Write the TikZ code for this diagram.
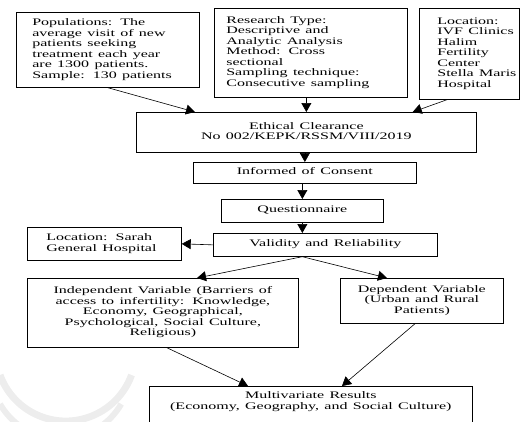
\documentclass[tikz,border=0pt]{standalone}
\usepackage{graphicx}
\usepackage{fontspec}
\setmainfont{Liberation Serif}
\usetikzlibrary{arrows.meta,calc}
\newcommand{\stx}[2]{\scalebox{1.6}[1]{\begin{tabular}{@{}#1@{}}#2\end{tabular}}}
\begin{document}
\begin{tikzpicture}[x=1pt,y=-1pt,
  box/.style={draw,line width=0.7pt,anchor=north west,inner ysep=2pt,
    font=\fontsize{10pt}{10.5pt}\selectfont},
  arr/.style={line width=0.6pt,-{Triangle[length=9pt,width=10pt]}}]
\useasboundingbox (0,0) rectangle (527,421);
\clip (0,0) rectangle (527,421);
% faint watermark
\draw[gray!14,line width=7pt] (0,375) arc[start angle=160,end angle=20,radius=70];
\draw[gray!14,line width=6pt] (0,404) arc[start angle=150,end angle=30,radius=70];
% boxes
\node[box,inner xsep=16pt,text width=151pt,minimum height=75pt,align=left] (b1) at (16,12)
  {\stx{l}{Populations: The\\average visit of new\\patients seeking\\treatment each year\\are 1300 patients.\\Sample: 130 patients}};
\node[box,inner xsep=12pt,text width=169pt,minimum height=89pt,align=left] (b2) at (214,8)
  {\stx{l}{Research Type:\\Descriptive and\\Analytic Analysis\\Method: Cross\\sectional\\Sampling technique:\\Consecutive sampling}};
\node[box,inner xsep=18pt,text width=64pt,minimum height=91pt,align=left] (b3) at (419,8)
  {\stx{l}{Location:\\IVF Clinics\\Halim\\Fertility\\Center\\Stella Maris\\Hospital}};
\node[box,inner xsep=5pt,text width=330pt,minimum height=40pt,align=center] (eth) at (136,112)
  {\stx{c}{Ethical Clearance\\No 002/KEPK/RSSM/VIII/2019}};
\node[box,inner xsep=5pt,text width=213pt,minimum height=21pt,align=center] (inf) at (193,162)
  {\stx{c}{Informed of Consent}};
\node[box,inner xsep=5pt,text width=152pt,minimum height=23pt,align=center] (q) at (221,199)
  {\stx{c}{Questionnaire}};
\node[box,inner xsep=5pt,text width=214pt,minimum height=23pt,align=center] (val) at (213,233)
  {\stx{c}{Validity and Reliability}};
\node[box,inner xsep=19pt,text width=116pt,minimum height=33pt,align=left] (sar) at (27,227)
  {\stx{l}{\makebox[72.5pt][s]{Location: Sarah}\\General Hospital}};
\node[box,inner xsep=5pt,text width=261pt,minimum height=69pt,align=center] (ind) at (27,278)
  {\stx{c}{Independent Variable (Barriers of\\access to infertility: Knowledge,\\Economy, Geographical,\\Psychological, Social Culture,\\Religious)}};
\node[box,inner xsep=5pt,text width=153pt,minimum height=45pt,align=center] (dep) at (340,278)
  {\stx{c}{Dependent Variable\\(Urban and Rural\\Patients)}};
\node[box,inner xsep=5pt,inner ysep=5pt,text width=313pt,align=center] (mv) at (149,386)
  {\stx{c}{Multivariate Results\\(Economy, Geography, and Social Culture)\\[30pt]}};
% connectors
\draw[arr] (b1.south) -- ([xshift=59pt]eth.north west);
\draw[arr] (eth.north |- b2.south) -- (eth.north);
\draw[arr] ([xshift=28pt]b3.south west) -- ([xshift=-64pt]eth.north east);
\draw[arr] (eth.south -| inf.north) -- (inf.north);
\draw[arr] (q.north |- inf.south) -- (q.north);
\draw[arr] (q.south) -- (q.south |- val.north);
\draw[arr] (val.west) -- (sar.east);
\draw[arr] (q.south |- val.south) -- ([xshift=170pt]ind.north west);
\draw[arr] (q.south |- val.south) -- ([xshift=47pt]dep.north west);
\draw[arr] ([xshift=4pt]ind.south) -- ([xshift=99pt]mv.north west);
\draw[arr] ([xshift=75pt]dep.south west) -- ([xshift=193pt]mv.north west);
\end{tikzpicture}
\end{document}
